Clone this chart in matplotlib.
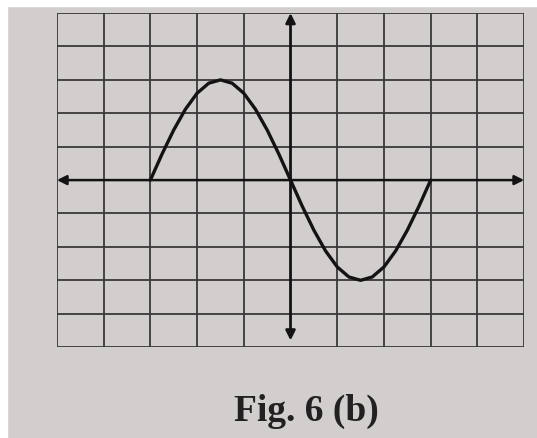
import matplotlib.pyplot as plt
from matplotlib.patches import Rectangle

# grid lines (in grid units), axis at 0
grid_x = [-5, -4, -3, -2, -1, 1, 2, 3, 4, 5]
grid_y = [-5, -4, -3, -2, -1, 1, 2, 3, 4, 5]

# curve, one point every quarter square
curve_x = [-3, -2.75, -2.5, -2.25, -2, -1.75, -1.5, -1.25, -1, -0.75, -0.5, -0.25, 0,
           0.25, 0.5, 0.75, 1, 1.25, 1.5, 1.75, 2, 2.25, 2.5, 2.75, 3]
curve_y = [0, 0.78, 1.5, 2.12, 2.6, 2.9, 3.0, 2.9, 2.6, 2.12, 1.5, 0.78, 0,
           -0.78, -1.5, -2.12, -2.6, -2.9, -3.0, -2.9, -2.6, -2.12, -1.5, -0.78, 0]

caption = "Fig. 6 (b)"

fig = plt.figure(figsize=(5.37, 4.39), dpi=100)
fig.patch.set_facecolor('#d2cecd')
# white edges of the scan
fig.patches.append(Rectangle((0, 1 - 7 / 439), 1, 7 / 439, transform=fig.transFigure,
                             color='white', zorder=0))
fig.patches.append(Rectangle((0, 0), 7 / 537, 1, transform=fig.transFigure,
                             color='white', zorder=0))

ax = fig.add_axes([0.106, 0.207, 0.87, 0.761])
ax.set_xlim(-5, 5)
ax.set_ylim(-5, 5)
ax.axis('off')

for gx in grid_x:
    ax.plot([gx, gx], [-5, 5], color='#3a3838', lw=1.3, zorder=1)
for gy in grid_y:
    ax.plot([-5, 5], [gy, gy], color='#3a3838', lw=1.3, zorder=1)

# axes with arrows
ax.annotate('', xy=(5.0, 0), xytext=(-5.0, 0),
            arrowprops=dict(arrowstyle='<|-|>', color='#141212', lw=1.8,
                            mutation_scale=14, shrinkA=0, shrinkB=0), zorder=3)
ax.annotate('', xy=(0, 5.0), xytext=(0, -4.8),
            arrowprops=dict(arrowstyle='<|-|>', color='#141212', lw=2.0,
                            mutation_scale=14, shrinkA=0, shrinkB=0), zorder=3)

ax.plot(curve_x, curve_y, color='#141212', lw=2.4, solid_capstyle='round',
        solid_joinstyle='round', zorder=4)

fig.text(0.57, 0.062, caption, ha='center', va='center', fontsize=27,
         fontweight='bold', family='Liberation Serif', color='#222020')

fig.savefig('out.png', dpi=100, facecolor=fig.get_facecolor())
